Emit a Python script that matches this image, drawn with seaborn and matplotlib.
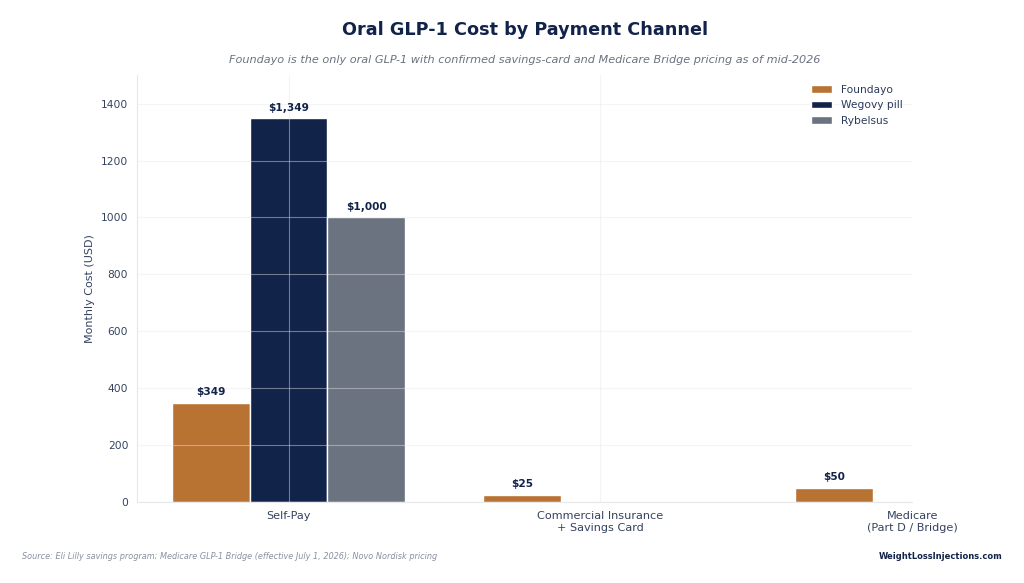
import pandas as pd
import seaborn as sns
import matplotlib.pyplot as plt

channels = ['Self-Pay', 'Commercial Insurance\n+ Savings Card', 'Medicare\n(Part D / Bridge)']
drugs = ['Foundayo', 'Wegovy pill', 'Rybelsus']
foundayo = [349, 25, 50]
wegovy = [1349, None, None]
rybelsus = [1000, None, None]

colors = ['#B87333', '#12234A', '#6B7280']
navy = '#12234A'

rows = []
for name, vals in zip(drugs, [foundayo, wegovy, rybelsus]):
    for ch, v in zip(channels, vals):
        if v is not None:
            rows.append({'channel': ch, 'drug': name, 'cost': v})
df = pd.DataFrame(rows)

sns.set_style('white')
plt.rcParams['font.family'] = ['DejaVu Sans']

fig = plt.figure(figsize=(10.24, 5.83), dpi=100)
ax = fig.add_axes([0.134, 0.139, 0.757, 0.732])

sns.barplot(data=df, x='channel', y='cost', hue='drug', order=channels,
            hue_order=drugs, palette=colors, width=0.75, edgecolor='white',
            linewidth=1, saturation=1, errorbar=None, ax=ax)

for cont in ax.containers:
    labels = [f'${b.get_height():,.0f}' for b in cont]
    ax.bar_label(cont, labels=labels, padding=4, fontsize=7.6,
                 fontweight='bold', color=navy)

ax.set_xlim(-0.485, 2.0)
ax.set_ylim(0, 1500)
ax.set_yticks(range(0, 1401, 200))
ax.set_axisbelow(False)
ax.grid(True, color='#E5E7EB', alpha=0.45, linewidth=0.8)

for s in ['top', 'right']:
    ax.spines[s].set_visible(False)
for s in ['left', 'bottom']:
    ax.spines[s].set_color('#E5E7EB')

ax.tick_params(axis='both', colors='#34425F', labelsize=7.7, length=3)
ax.tick_params(axis='x', labelsize=8.1)
ax.set_xlabel('')
ax.set_ylabel('Monthly Cost (USD)', fontsize=8, color='#34425F')

leg = ax.legend(loc='upper right', frameon=False, fontsize=7.7)
for t in leg.get_texts():
    t.set_color('#2B3A5C')

# titles are centred over the plot area, not the figure
xc = 0.134 + 0.757 / 2
fig.text(xc, 0.949, 'Oral GLP-1 Cost by Payment Channel', ha='center',
         va='center', fontsize=12.7, fontweight='bold', color=navy)
fig.text(xc, 0.897, 'Foundayo is the only oral GLP-1 with confirmed savings-card '
         'and Medicare Bridge pricing as of mid-2026', ha='center', va='center',
         fontsize=8.1, style='italic', color='#6B7280')
fig.text(0.021, 0.046, 'Source: Eli Lilly savings program; Medicare GLP-1 Bridge '
         '(effective July 1, 2026); Novo Nordisk pricing', ha='left', va='center',
         fontsize=5.9, style='italic', color='#8A90A0')
fig.text(0.979, 0.046, 'WeightLossInjections.com', ha='right', va='center',
         fontsize=6, fontweight='bold', color=navy)

fig.savefig('out.png', dpi=100)
